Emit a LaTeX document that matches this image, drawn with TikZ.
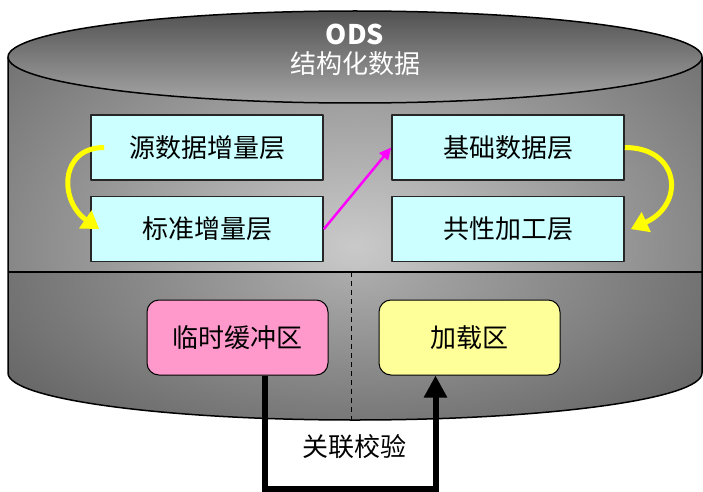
\documentclass[tikz,border=0pt]{standalone}
\usepackage{fontspec}
\newfontfamily\cjk{Noto Sans CJK SC}
\usetikzlibrary{arrows.meta,positioning}
\definecolor{layerfill}{HTML}{CCFFFF}
\definecolor{buffill}{HTML}{FF99CC}
\definecolor{loadfill}{HTML}{FFFF99}
\definecolor{turncol}{HTML}{FFFF00}
\definecolor{linkcol}{HTML}{FF00FF}
\begin{document}
\begin{tikzpicture}[x=1pt, y=1pt, font=\cjk\fontsize{26}{30}\selectfont, line join=round,
	layer/.style={draw=black!85, line width=1.6pt, fill=layerfill, minimum width=232pt, minimum height=65pt, inner sep=0pt},
	zone/.style={draw=black, line width=1pt, rounded corners=12pt, minimum width=181pt, minimum height=75pt, inner sep=0pt},
	turn/.style={draw=turncol, line width=5pt, -{Triangle[length=17pt,width=21pt]}}]
	\useasboundingbox (0,0) rectangle (703,491);
	% cylinder
	\begin{scope}
		\clip (8,434) rectangle (702,219);
		\shade[inner color=gray!42, outer color=black!72] (355,245) ellipse[x radius=680, y radius=440];
	\end{scope}
	\begin{scope}
		\clip (8,219) -- (8,118) arc[start angle=180, end angle=360, x radius=347, y radius=47] -- (702,219) -- cycle;
		\shade[inner color=gray!65, outer color=black!74] (355,219) ellipse[x radius=640, y radius=300];
	\end{scope}
	\draw[line width=1.5pt] (8,434) -- (8,118) arc[start angle=180, end angle=360, x radius=347, y radius=47] -- (702,434);
	\draw[line width=1.3pt] (8,219) -- (702,219);
	\draw[dash pattern=on 5pt off 4pt, line width=0.8pt] (351,219) -- (351,71);
	\shade[top color=black!68, bottom color=black!35, draw=black, line width=1.5pt] (355,434) ellipse[x radius=347, y radius=46];
	\node[white, font=\cjk\bfseries\fontsize{27}{30}\selectfont] (ods) at (355,457) {ODS};
	\node[white] (ods-sub) at (355,427) {结构化数据};
	% layers
	\node[layer] (src) at (207,343.5) {源数据增量层};
	\node[layer, below=15pt of src] (std) {标准增量层};
	\node[layer] (base) at (508,343.5) {基础数据层};
	\node[layer, below=15pt of base] (share) {共性加工层};
	\draw[turn] ([xshift=14pt]src.west) .. controls +(-45,0) and +(-40,28) .. ([xshift=9pt]std.west);
	\draw[turn] (base.east) .. controls +(55,0) and +(55,25) .. ([xshift=6pt]share.east);
	\draw[linkcol, line width=2.5pt, -{Triangle[length=12pt,width=11pt]}] (std.east) -- (base.west);
	% zones
	\node[zone, fill=buffill] (buf) at (237.5,153.5) {临时缓冲区};
	\node[zone, fill=loadfill, right=50pt of buf] (load) {加载区};
	\node (check) at (354,44) {关联校验};
	\draw[line width=6pt, line join=miter, -{Triangle[length=22pt,width=22pt]}]
		([xshift=27.5pt]buf.south) -- ++(0,-113) -| ([xshift=-34pt]load.south);
\end{tikzpicture}
\end{document}
